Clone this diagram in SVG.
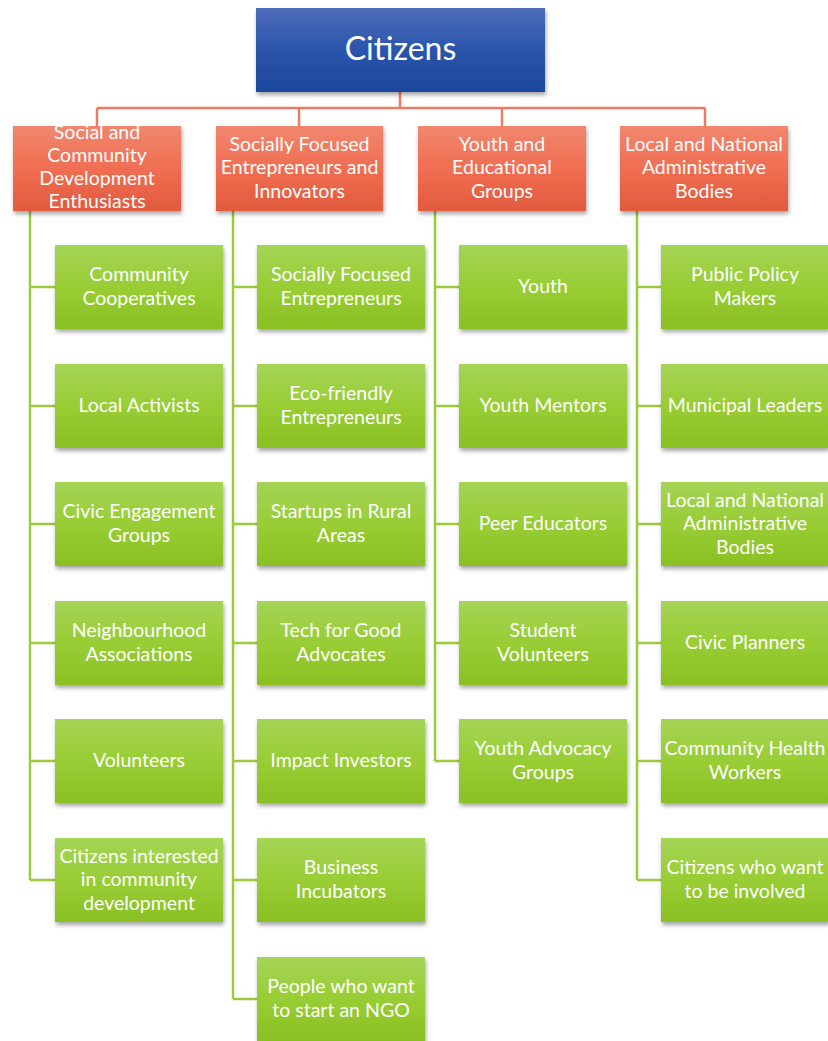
<svg xmlns="http://www.w3.org/2000/svg" width="828" height="1041" viewBox="0 0 828 1041">
<defs>
<linearGradient id="gBlue" x1="0" y1="0" x2="0" y2="1"><stop offset="0" stop-color="#4d6cba"/><stop offset="0.5" stop-color="#2a55ab"/><stop offset="1" stop-color="#1b479c"/></linearGradient>
<linearGradient id="gRed" x1="0" y1="0" x2="0" y2="1"><stop offset="0" stop-color="#f0876f"/><stop offset="0.5" stop-color="#f06e52"/><stop offset="1" stop-color="#e15a3e"/></linearGradient>
<linearGradient id="gGreen" x1="0" y1="0" x2="0" y2="1"><stop offset="0" stop-color="#a5d457"/><stop offset="0.5" stop-color="#98cd34"/><stop offset="1" stop-color="#8bc024"/></linearGradient>
<filter id="sh" x="-10%" y="-10%" width="125%" height="135%"><feDropShadow dx="1" dy="3" stdDeviation="2" flood-color="#000" flood-opacity="0.35"/></filter>
</defs>
<style>
.top{fill:url(#gBlue);filter:url(#sh)}
.hd{fill:url(#gRed);filter:url(#sh)}
.gr{fill:url(#gGreen);filter:url(#sh)}
text{font-family:Lato,"Open Sans","Liberation Sans",sans-serif;fill:#fff;text-anchor:middle;font-size:19.5px}
.big{font-size:32px}
.cr{stroke:#f07b64;stroke-width:2.5;fill:none}
.cg{stroke:#99cc3a;stroke-width:2.5;fill:none}
</style>
<g id="connectors">
<path class="cr" d="M400 92V108M97 108H705M97 108V126M299 108V126M502 108V126M705 108V126"/>
<path class="cg" d="M30 211V880M30 287H55M30 406H55M30 524H55M30 643H55M30 761H55M30 880H55"/>
<path class="cg" d="M233 211V999M233 287H257M233 406H257M233 524H257M233 643H257M233 761H257M233 880H257M233 999H257"/>
<path class="cg" d="M435 211V761M435 287H459M435 406H459M435 524H459M435 643H459M435 761H459"/>
<path class="cg" d="M637 211V880M637 287H661M637 406H661M637 524H661M637 643H661M637 761H661M637 880H661"/>
</g>
<g id="n-citizens"><rect class="top" x="256" y="8" width="289" height="84"/><text class="big" x="400.5" y="60">Citizens</text></g>

<g id="h1"><rect class="hd" x="13" y="126" width="168" height="85"/><text x="97" y="138.5">Social and</text><text x="97" y="161.5">Community</text><text x="97" y="184.5">Development</text><text x="97" y="207.5">Enthusiasts</text></g>
<g id="h2"><rect class="hd" x="216" y="126" width="167" height="85"/><text x="299.5" y="150.5">Socially Focused</text><text x="299.5" y="174">Entrepreneurs and</text><text x="299.5" y="197.5">Innovators</text></g>
<g id="h3"><rect class="hd" x="418" y="126" width="168" height="85"/><text x="502" y="150.5">Youth and</text><text x="502" y="174">Educational</text><text x="502" y="197.5">Groups</text></g>
<g id="h4"><rect class="hd" x="620" y="126" width="168" height="85"/><text x="704" y="150.5">Local and National</text><text x="704" y="174">Administrative</text><text x="704" y="197.5">Bodies</text></g>

<g id="c1-1"><rect class="gr" x="55" y="245" width="168" height="84"/><text x="139" y="281">Community</text><text x="139" y="304.5">Cooperatives</text></g>
<g id="c1-2"><rect class="gr" x="55" y="364" width="168" height="84"/><text x="139" y="412">Local Activists</text></g>
<g id="c1-3"><rect class="gr" x="55" y="482" width="168" height="84"/><text x="139" y="518">Civic Engagement</text><text x="139" y="541.5">Groups</text></g>
<g id="c1-4"><rect class="gr" x="55" y="601" width="168" height="84"/><text x="139" y="637">Neighbourhood</text><text x="139" y="660.5">Associations</text></g>
<g id="c1-5"><rect class="gr" x="55" y="719" width="168" height="84"/><text x="139" y="767">Volunteers</text></g>
<g id="c1-6"><rect class="gr" x="55" y="838" width="168" height="84"/><text x="139" y="862.5">Citizens interested</text><text x="139" y="886">in community</text><text x="139" y="909.5">development</text></g>

<g id="c2-1"><rect class="gr" x="257" y="245" width="168" height="84"/><text x="341" y="281">Socially Focused</text><text x="341" y="304.5">Entrepreneurs</text></g>
<g id="c2-2"><rect class="gr" x="257" y="364" width="168" height="84"/><text x="341" y="400">Eco-friendly</text><text x="341" y="423.5">Entrepreneurs</text></g>
<g id="c2-3"><rect class="gr" x="257" y="482" width="168" height="84"/><text x="341" y="518">Startups in Rural</text><text x="341" y="541.5">Areas</text></g>
<g id="c2-4"><rect class="gr" x="257" y="601" width="168" height="84"/><text x="341" y="637">Tech for Good</text><text x="341" y="660.5">Advocates</text></g>
<g id="c2-5"><rect class="gr" x="257" y="719" width="168" height="84"/><text x="341" y="767">Impact Investors</text></g>
<g id="c2-6"><rect class="gr" x="257" y="838" width="168" height="84"/><text x="341" y="874">Business</text><text x="341" y="897.5">Incubators</text></g>
<g id="c2-7"><rect class="gr" x="257" y="957" width="168" height="84"/><text x="341" y="993">People who want</text><text x="341" y="1016.5">to start an NGO</text></g>

<g id="c3-1"><rect class="gr" x="459" y="245" width="168" height="84"/><text x="543" y="293">Youth</text></g>
<g id="c3-2"><rect class="gr" x="459" y="364" width="168" height="84"/><text x="543" y="412">Youth Mentors</text></g>
<g id="c3-3"><rect class="gr" x="459" y="482" width="168" height="84"/><text x="543" y="530">Peer Educators</text></g>
<g id="c3-4"><rect class="gr" x="459" y="601" width="168" height="84"/><text x="543" y="637">Student</text><text x="543" y="660.5">Volunteers</text></g>
<g id="c3-5"><rect class="gr" x="459" y="719" width="168" height="84"/><text x="543" y="755">Youth Advocacy</text><text x="543" y="778.5">Groups</text></g>

<g id="c4-1"><rect class="gr" x="661" y="245" width="168" height="84"/><text x="745" y="281">Public Policy</text><text x="745" y="304.5">Makers</text></g>
<g id="c4-2"><rect class="gr" x="661" y="364" width="168" height="84"/><text x="745" y="412">Municipal Leaders</text></g>
<g id="c4-3"><rect class="gr" x="661" y="482" width="168" height="84"/><text x="745" y="506.5">Local and National</text><text x="745" y="530">Administrative</text><text x="745" y="553.5">Bodies</text></g>
<g id="c4-4"><rect class="gr" x="661" y="601" width="168" height="84"/><text x="745" y="649">Civic Planners</text></g>
<g id="c4-5"><rect class="gr" x="661" y="719" width="168" height="84"/><text x="745" y="755">Community Health</text><text x="745" y="778.5">Workers</text></g>
<g id="c4-6"><rect class="gr" x="661" y="838" width="168" height="84"/><text x="745" y="874">Citizens who want</text><text x="745" y="897.5">to be involved</text></g>
</svg>
